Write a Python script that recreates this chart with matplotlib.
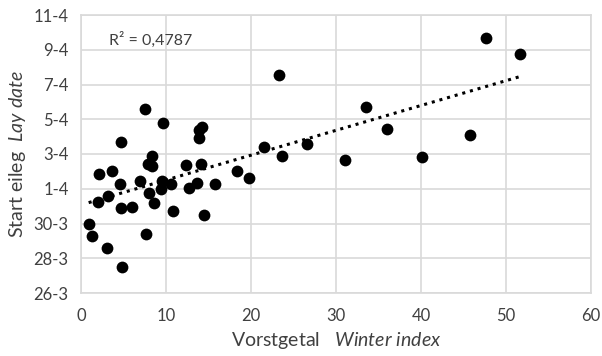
import numpy as np
import matplotlib
matplotlib.use("Agg")
import matplotlib.pyplot as plt

# winter index (vorstgetal) per year
winter_index = [0.9, 1.3, 2.0, 2.1, 3.0, 3.2, 3.6, 4.6, 4.7, 4.7, 4.8, 6.0,
                6.9, 7.5, 7.65, 7.85, 8.0, 8.3, 8.35, 8.6, 9.45, 9.55, 9.65,
                10.6, 10.85, 12.35, 12.65, 13.6, 13.9, 13.9, 14.25, 14.1, 14.5,
                15.8, 18.4, 19.8, 21.55, 23.3, 23.6, 26.6, 31.1, 33.5, 35.95,
                40.1, 45.8, 47.6, 51.6]
# start of laying, day of year (85 = 26 March, 91 = 1 April)
lay_day = [89.0, 88.3, 90.25, 91.85, 87.6, 90.6, 92.0, 91.3, 93.7, 89.9, 86.5,
           89.95, 91.45, 95.6, 88.4, 92.4, 90.75, 92.3, 92.9, 90.2, 91.0, 91.45,
           94.8, 91.3, 89.7, 92.35, 91.05, 91.35, 93.9, 94.4, 94.55, 92.45,
           89.5, 91.25, 92.0, 91.6, 93.4, 97.55, 92.9, 93.6, 92.65, 95.7, 94.45,
           92.85, 94.1, 99.65, 98.75]

y_ticks = [85, 87, 89, 91, 93, 95, 97, 99, 101]
y_tick_labels = ["26-3", "28-3", "30-3", "1-4", "3-4", "5-4", "7-4", "9-4", "11-4"]
x_ticks = [0, 10, 20, 30, 40, 50, 60]
r2_text = "R² = 0,4787"

plt.rcParams['font.family'] = ['Lato', 'DejaVu Sans']
plt.rcParams['mathtext.fontset'] = 'custom'
plt.rcParams['mathtext.rm'] = 'Lato'
plt.rcParams['mathtext.it'] = 'Lato:italic'

fig = plt.figure(figsize=(6.02, 3.56), dpi=100)
ax = fig.add_axes([81 / 602, 1 - 293 / 356, 510 / 602, 278 / 356])

grid_col = "#d9d9d9"
text_col = "#404040"

ax.scatter(winter_index, lay_day, s=72, color="black", zorder=3, linewidths=0)

# linear trend line
x = np.array(winter_index)
slope, icpt = np.polyfit(x, np.array(lay_day), 1)
xs = np.array([x.min(), x.max()])
ax.plot(xs, slope * xs + icpt, color="black", linestyle=(0, (1, 1.6)), linewidth=2.2, zorder=2)

ax.text(3.3, 99.55, r2_text, fontsize=11.5, color=text_col, va="center")

ax.set_xlim(0, 60)
ax.set_ylim(85, 101)
ax.set_xticks(x_ticks)
ax.set_yticks(y_ticks)
ax.set_yticklabels(y_tick_labels)
ax.tick_params(length=0, labelsize=12, colors=text_col)
ax.tick_params(axis="x", pad=11)
ax.tick_params(axis="y", pad=9)
ax.grid(True, color=grid_col, linewidth=1.2)
ax.set_axisbelow(True)
for sp in ax.spines.values():
    sp.set_color(grid_col)
    sp.set_linewidth(1.2)

ax.set_xlabel(r"Vorstgetal   $\mathit{Winter\ index}$", fontsize=14, color=text_col, labelpad=4)
ax.set_ylabel(r"Start eileg  $\mathit{Lay\ date}$", fontsize=14, color=text_col, labelpad=4)

fig.savefig("out.png", dpi=100)
